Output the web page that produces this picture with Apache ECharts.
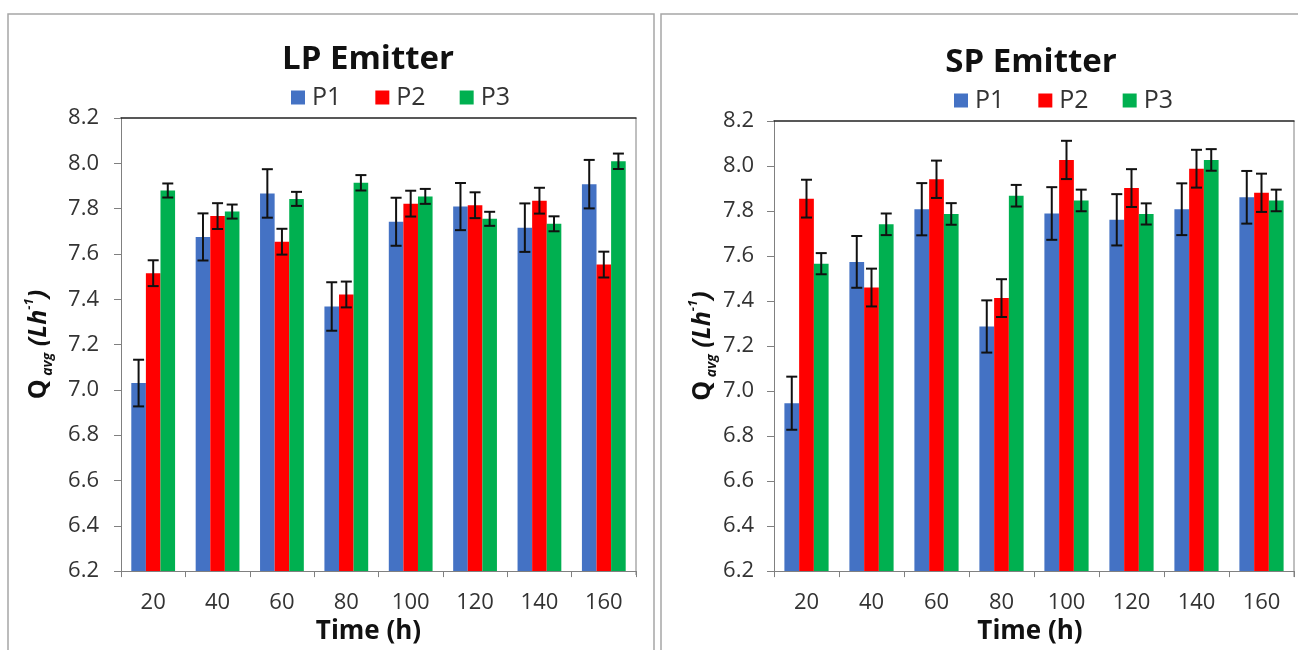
<!DOCTYPE html>
<html>
<head>
<meta charset="utf-8">
<script src="https://cdn.jsdelivr.net/npm/echarts@6/dist/echarts.min.js"></script>
<style>
html,body{margin:0;padding:0;background:#fff;}
#chart{width:1298px;height:650px;}
</style>
</head>
<body>
<div id="chart"></div>
<script>
// ---- data ----
const categories = ['20', '40', '60', '80', '100', '120', '140', '160'];
const seriesNames = ['P1', 'P2', 'P3'];
const yTicks = [6.2, 6.4, 6.6, 6.8, 7.0, 7.2, 7.4, 7.6, 7.8, 8.0, 8.2];

// LP Emitter
const lpP1 = [7.03, 7.675, 7.867, 7.368, 7.742, 7.809, 7.716, 7.908];
const lpP2 = [7.515, 7.767, 7.654, 7.421, 7.822, 7.815, 7.835, 7.553];
const lpP3 = [7.88, 7.787, 7.843, 7.914, 7.854, 7.755, 7.733, 8.009];
const lpErrP1 = [0.103, 0.104, 0.107, 0.107, 0.106, 0.104, 0.107, 0.107];
const lpErrP2 = [0.057, 0.057, 0.057, 0.057, 0.057, 0.057, 0.057, 0.057];
const lpErrP3 = [0.031, 0.031, 0.031, 0.034, 0.033, 0.031, 0.033, 0.034];

// SP Emitter
const spP1 = [6.946, 7.574, 7.808, 7.287, 7.789, 7.761, 7.808, 7.861];
const spP2 = [7.855, 7.46, 7.941, 7.413, 8.027, 7.902, 7.988, 7.881];
const spP3 = [7.566, 7.741, 7.787, 7.868, 7.847, 7.787, 8.027, 7.847];
const spErrP1 = [0.118, 0.115, 0.116, 0.116, 0.117, 0.114, 0.115, 0.117];
const spErrP2 = [0.084, 0.084, 0.083, 0.084, 0.085, 0.084, 0.084, 0.085];
const spErrP3 = [0.047, 0.048, 0.048, 0.048, 0.048, 0.047, 0.048, 0.048];

const colors = ['#4472C4', '#FF0000', '#00B050'];
const FONT = 'Open Sans';
const CAT_GAP = 0.32;

function errData(vals, errs) {
  return vals.map((v, i) => [i, v - errs[i], v + errs[i]]);
}

function errRender(k) {
  return function (params, api) {
    const c = api.value(0);
    const lo = api.coord([c, api.value(1)]);
    const hi = api.coord([c, api.value(2)]);
    const band = api.size([1, 0])[0];
    const bw = band * (1 - CAT_GAP) / 3;
    const x = lo[0] + (k - 1) * bw;
    const cap = 5.5;
    const st = { stroke: '#111', lineWidth: 2 };
    return {
      type: 'group',
      children: [
        { type: 'line', shape: { x1: x, y1: lo[1], x2: x, y2: hi[1] }, style: st },
        { type: 'line', shape: { x1: x - cap, y1: hi[1], x2: x + cap, y2: hi[1] }, style: st },
        { type: 'line', shape: { x1: x - cap, y1: lo[1], x2: x + cap, y2: lo[1] }, style: st }
      ]
    };
  };
}

const yNameRich = {
  q: { fontFamily: FONT, fontSize: 25, fontWeight: 'bold', color: '#111', lineHeight: 32 },
  sub: { fontFamily: FONT, fontSize: 14, fontWeight: 'bold', fontStyle: 'italic', color: '#111', lineHeight: 15, verticalAlign: 'bottom' },
  b: { fontFamily: FONT, fontSize: 25, fontWeight: 'bold', fontStyle: 'italic', color: '#111', lineHeight: 32 },
  sup: { fontFamily: FONT, fontSize: 13, fontWeight: 'bold', fontStyle: 'italic', color: '#111', lineHeight: 14, verticalAlign: 'top' }
};
const yName = '{q|Q}{sub| avg}{b| (Lh}{sup|-1}{b|)}';

function makeXAxis(gridIndex, namePad) {
  return {
    type: 'category', gridIndex: gridIndex, data: categories,
    axisLine: { lineStyle: { color: '#808080', width: 1 } },
    axisTick: { show: true, alignWithLabel: false, length: 6, lineStyle: { color: '#808080' } },
    axisLabel: { fontFamily: FONT, fontSize: 22, color: '#333', margin: 21 },
    name: 'Time (h)', nameLocation: 'middle', nameGap: 44,
    nameTextStyle: { fontFamily: FONT, fontSize: 26, fontWeight: 'bold', color: '#111', padding: namePad }
  };
}
function makeTopAxis(gridIndex) {
  return {
    type: 'category', gridIndex: gridIndex, data: categories, position: 'top',
    axisLine: { lineStyle: { color: '#222', width: 1.5 } },
    axisTick: { show: false }, axisLabel: { show: false }
  };
}
function makeYAxis(gridIndex, gap, margin) {
  return {
    type: 'value', gridIndex: gridIndex, min: 6.2, max: 8.2, interval: 0.2,
    axisLine: { show: true, lineStyle: { color: '#808080', width: 1 } },
    axisTick: { show: true, length: 7, lineStyle: { color: '#808080' } },
    splitLine: { show: false },
    axisLabel: {
      fontFamily: FONT, fontSize: 22, color: '#333', margin: margin,
      formatter: function (v) {
        const t = yTicks.find(tt => Math.abs(tt - v) < 1e-6);
        return (t !== undefined ? t : v).toFixed(1);
      }
    },
    name: yName, nameLocation: 'middle', nameRotate: 90, nameGap: gap,
    nameTextStyle: { rich: yNameRich }
  };
}

function barSeries(name, data, k, xi, yi) {
  return {
    name: name, type: 'bar', data: data, xAxisIndex: xi, yAxisIndex: yi,
    barGap: '0%', barCategoryGap: (CAT_GAP * 100) + '%',
    itemStyle: { color: colors[k] }, z: 2
  };
}
function errSeries(name, data, k, xi, yi) {
  return {
    name: name, type: 'custom', data: data, xAxisIndex: xi, yAxisIndex: yi,
    renderItem: errRender(k), encode: { x: 0, y: [1, 2] }, z: 5, silent: true
  };
}

const lpVals = [lpP1, lpP2, lpP3];
const lpErrs = [lpErrP1, lpErrP2, lpErrP3];
const spVals = [spP1, spP2, spP3];
const spErrs = [spErrP1, spErrP2, spErrP3];

const series = [];
for (let k = 0; k < 3; k++) series.push(barSeries(seriesNames[k], lpVals[k], k, 0, 0));
for (let k = 0; k < 3; k++) series.push(barSeries(seriesNames[k], spVals[k], k, 2, 1));
for (let k = 0; k < 3; k++) series.push(errSeries(seriesNames[k], errData(lpVals[k], lpErrs[k]), k, 0, 0));
for (let k = 0; k < 3; k++) series.push(errSeries(seriesNames[k], errData(spVals[k], spErrs[k]), k, 2, 1));

const legendText = { fontFamily: FONT, fontSize: 25, color: '#333', padding: [0, 0, 0, 2] };

const chart = echarts.init(document.getElementById('chart'), null, { renderer: 'canvas' });
chart.setOption({
  backgroundColor: '#fff',
  animation: false,
  title: [
    { text: 'LP Emitter', left: 368, top: 43, textAlign: 'center', padding: 0,
      textStyle: { fontFamily: FONT, fontSize: 33, fontWeight: 'bold', color: '#111' } },
    { text: 'SP Emitter', left: 1031, top: 46, textAlign: 'center', padding: 0,
      textStyle: { fontFamily: FONT, fontSize: 33, fontWeight: 'bold', color: '#111' } }
  ],
  legend: [
    { data: seriesNames, left: 291, top: 85, padding: 0, icon: 'rect', itemWidth: 14, itemHeight: 14,
      itemGap: 34, textStyle: legendText },
    { data: seriesNames, left: 954, top: 88, padding: 0, icon: 'rect', itemWidth: 14, itemHeight: 14,
      itemGap: 34, textStyle: legendText }
  ],
  grid: [
    { left: 121, right: 1298 - 636, top: 118, bottom: 650 - 575, show: false },
    { left: 774, right: 4, top: 121, bottom: 650 - 577, show: false }
  ],
  xAxis: [makeXAxis(0, [0, 20, 0, 0]), makeTopAxis(0), makeXAxis(1, [0, 8, 0, 0]), makeTopAxis(1)],
  yAxis: [makeYAxis(0, 66, 22), makeYAxis(1, 50, 20)],
  graphic: [
    { type: 'rect', shape: { x: 8, y: 14, width: 646, height: 660 }, style: { fill: 'none', stroke: '#a6a6a6', lineWidth: 1.5 }, z: -1 },
    { type: 'rect', shape: { x: 661, y: 14, width: 660, height: 660 }, style: { fill: 'none', stroke: '#a6a6a6', lineWidth: 1.5 }, z: -1 },
    { type: 'line', shape: { x1: 636, y1: 118, x2: 636, y2: 575 }, style: { stroke: '#808080', lineWidth: 1 } },
    { type: 'line', shape: { x1: 1294, y1: 121, x2: 1294, y2: 577 }, style: { stroke: '#808080', lineWidth: 1 } }
  ],
  series: series
});
</script>
</body>
</html>
